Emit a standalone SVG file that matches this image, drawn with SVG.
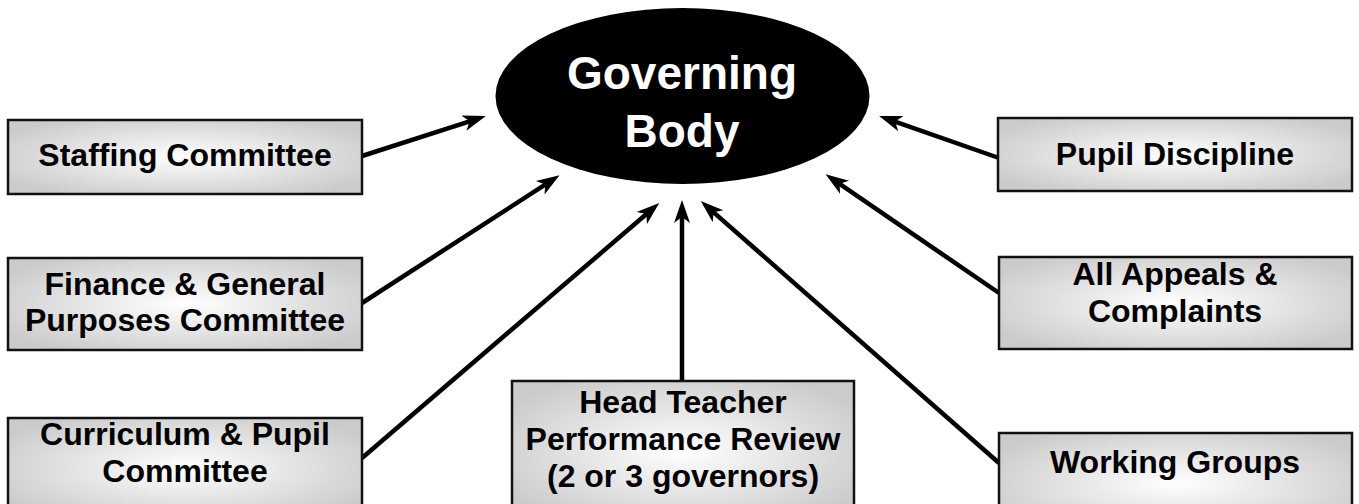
<svg xmlns="http://www.w3.org/2000/svg" width="1359" height="504" viewBox="0 0 1359 504">
  <defs>
    <radialGradient id="boxFill" cx="50%" cy="50%" r="60%">
      <stop offset="0" stop-color="#ffffff"/>
      <stop offset="1" stop-color="#cbcbcb"/>
    </radialGradient>
    <marker id="head" markerUnits="userSpaceOnUse" markerWidth="26" markerHeight="18" viewBox="0 -9 26 18" refX="10" refY="0" orient="auto">
      <path d="M0,-8 L23,0 L0,8 L6,0 Z" fill="#000"/>
    </marker>
  </defs>
  <style>
    .box { fill: url(#boxFill); stroke: #111; stroke-width: 2.5; }
    .lbl { font-family: "Liberation Sans", Arial, sans-serif; font-weight: bold; font-size: 32px; fill: #000; text-anchor: middle; }
    .title { font-family: "Liberation Sans", Arial, sans-serif; font-weight: bold; font-size: 46px; fill: #fff; text-anchor: middle; }
    .link { stroke: #000; stroke-width: 4.5; fill: none; marker-end: url(#head); }
  </style>
  <rect width="1359" height="504" fill="#fff"/>

  <!-- every connector ends 10px short of its arrow tip; the marker supplies the rest -->
  <g id="connectors">
    <line class="link" x1="362" y1="156" x2="473.5" y2="120.1"/>
    <line class="link" x1="362" y1="303" x2="548.6" y2="182.4"/>
    <line class="link" x1="362" y1="458" x2="649.4" y2="211.5"/>
    <line class="link" x1="682" y1="381" x2="682" y2="213"/>
    <line class="link" x1="999" y1="463" x2="710.5" y2="209.6"/>
    <line class="link" x1="999" y1="293" x2="836.3" y2="181.6"/>
    <line class="link" x1="999" y1="158" x2="891.4" y2="120.3"/>
  </g>

  <g id="governing-body">
    <ellipse cx="682.5" cy="96" rx="187" ry="88" fill="#000"/>
    <text class="title" x="682" y="89">Governing</text>
    <text class="title" x="682" y="147">Body</text>
  </g>

  <g id="staffing">
    <rect class="box" x="8" y="120" width="354" height="74"/>
    <text class="lbl" x="185" y="166">Staffing Committee</text>
  </g>

  <g id="finance">
    <rect class="box" x="8" y="258" width="354" height="92"/>
    <text class="lbl" x="185" y="295">Finance &amp; General</text>
    <text class="lbl" x="185" y="331">Purposes Committee</text>
  </g>

  <g id="curriculum">
    <rect class="box" x="8" y="418" width="354" height="100"/>
    <text class="lbl" x="185" y="445">Curriculum &amp; Pupil</text>
    <text class="lbl" x="185" y="482">Committee</text>
  </g>

  <g id="head-teacher">
    <rect class="box" x="512" y="381" width="342" height="140"/>
    <text class="lbl" x="683" y="413">Head Teacher</text>
    <text class="lbl" x="683" y="450">Performance Review</text>
    <text class="lbl" x="683" y="487">(2 or 3 governors)</text>
  </g>

  <g id="pupil-discipline">
    <rect class="box" x="998" y="118" width="354" height="73"/>
    <text class="lbl" x="1175" y="165">Pupil Discipline</text>
  </g>

  <g id="appeals">
    <rect class="box" x="999" y="257" width="353" height="92"/>
    <text class="lbl" x="1175" y="285">All Appeals &amp;</text>
    <text class="lbl" x="1175" y="322">Complaints</text>
  </g>

  <g id="working-groups">
    <rect class="box" x="999" y="433" width="353" height="100"/>
    <text class="lbl" x="1175" y="473">Working Groups</text>
  </g>
</svg>
